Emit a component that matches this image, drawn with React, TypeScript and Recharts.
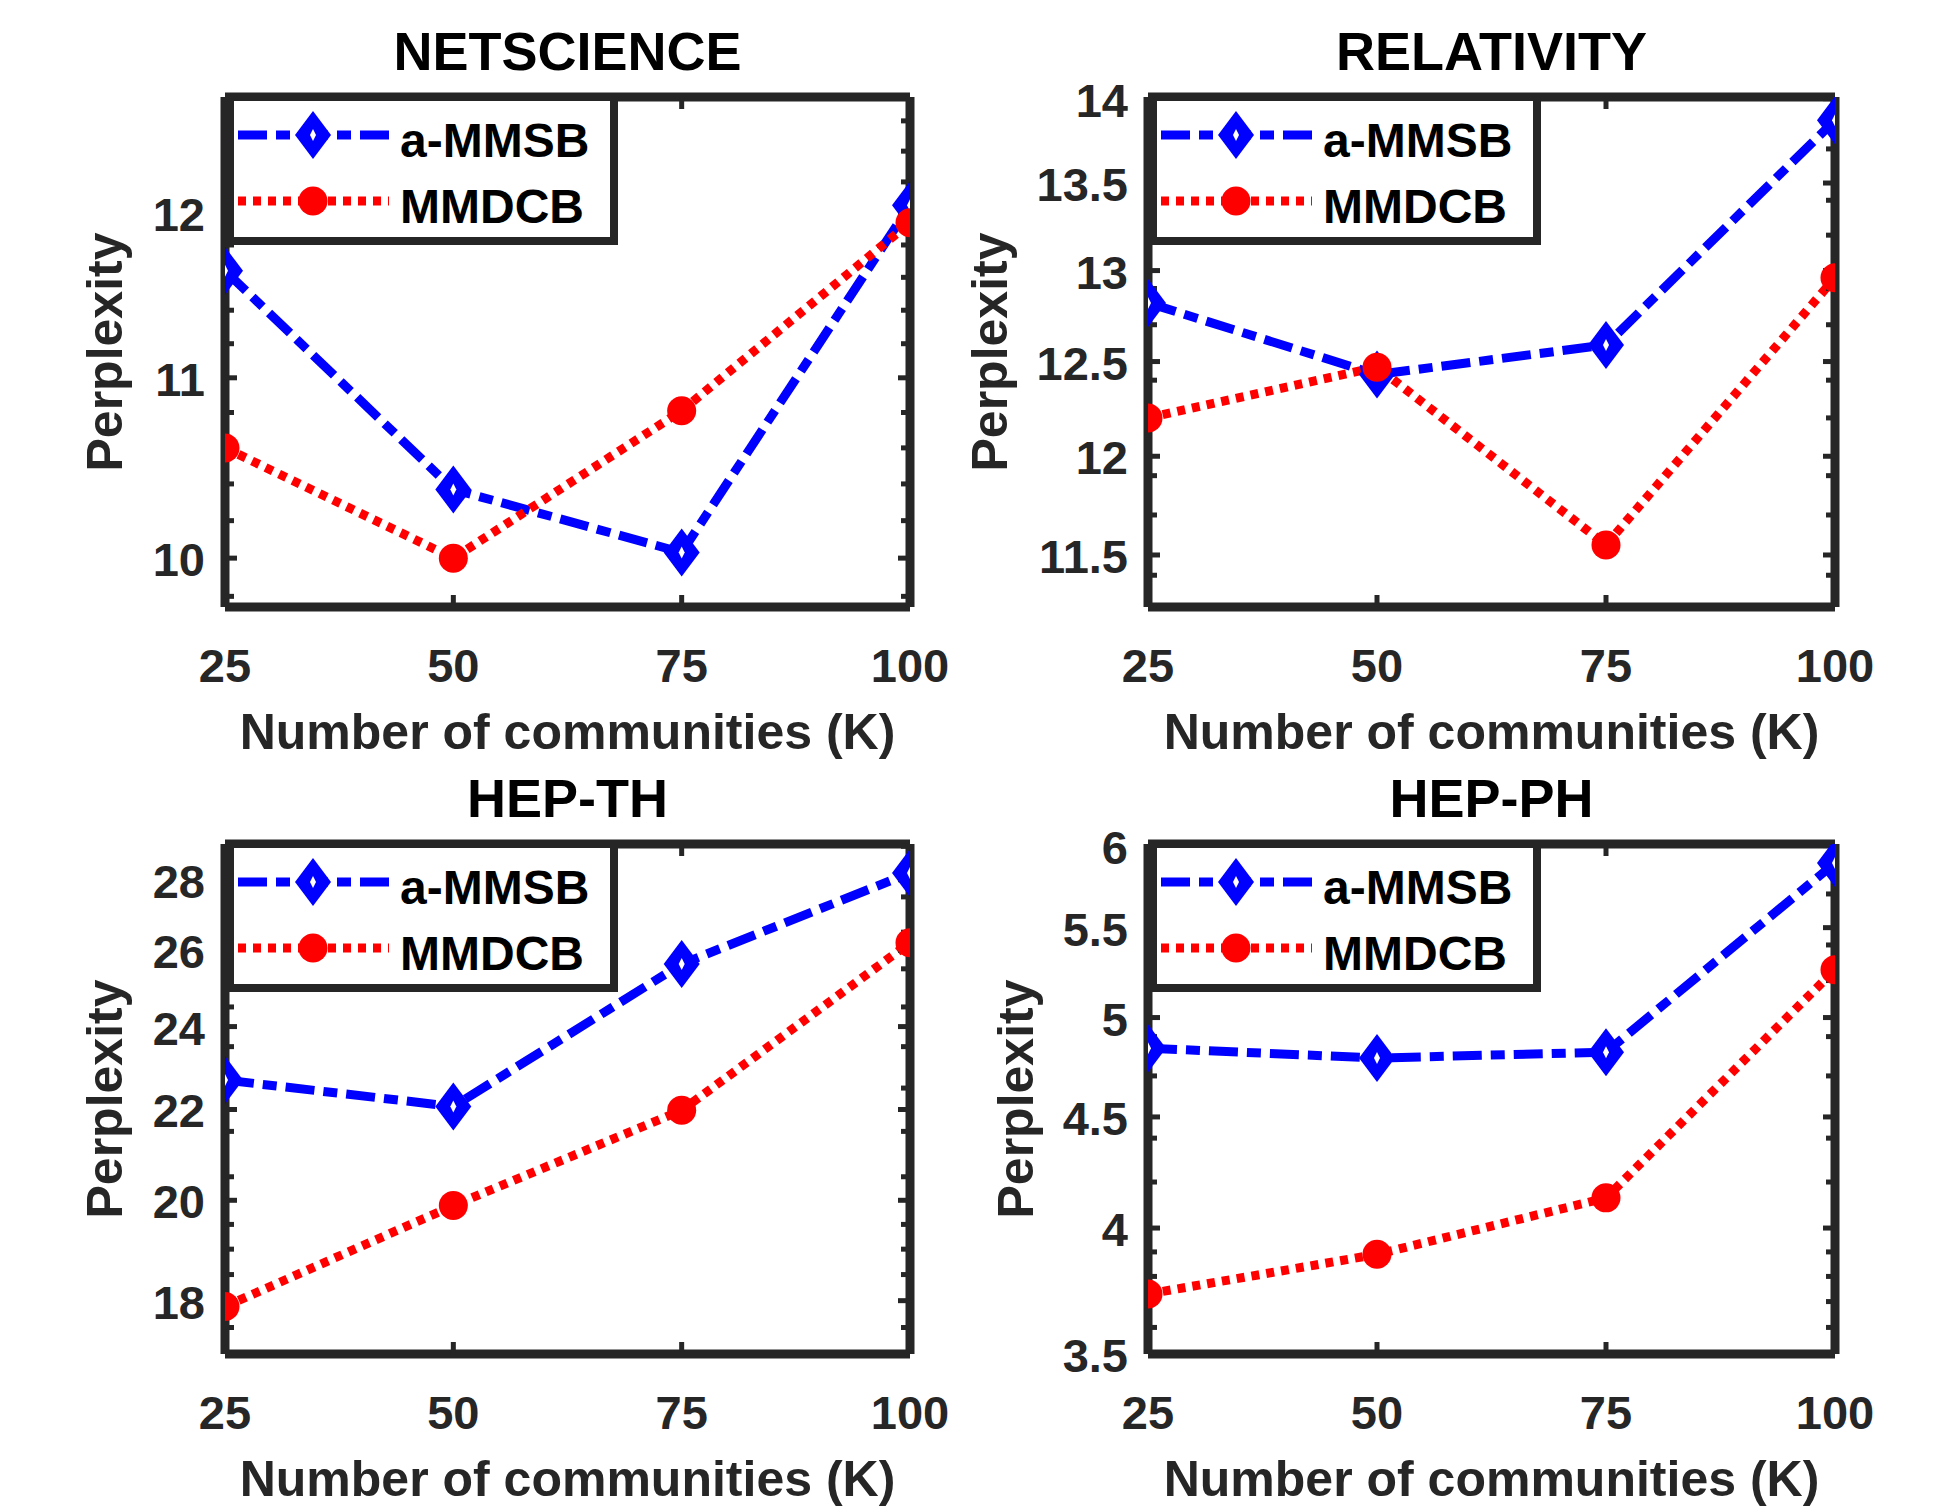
import React from 'react';
import { LineChart, Line, XAxis, YAxis, Legend, Label } from 'recharts';

// communities K on the x axis
const ks = [25, 50, 75, 100];
const kTicks = [25, 50, 75, 100];

const seriesNames = ['a-MMSB', 'MMDCB'];

// NETSCIENCE
const netAmmsb = [11.64, 10.37, 10.03, 12.05];
const netMmdcb = [10.6, 10.0, 10.81, 11.94];
const netTicks = [10, 11, 12];

// RELATIVITY
const relAmmsb = [12.82, 12.43, 12.59, 13.87];
const relMmdcb = [12.2, 12.47, 11.55, 12.96];
const relTicks = [11.5, 12, 12.5, 13, 13.5, 14];

// HEP-TH
const thAmmsb = [22.69, 22.07, 25.63, 28.2];
const thMmdcb = [17.89, 19.89, 21.98, 26.21];
const thTicks = [18, 20, 22, 24, 26, 28];

// HEP-PH
const phAmmsb = [4.84, 4.79, 4.82, 5.89];
const phMmdcb = [3.73, 3.89, 4.13, 5.26];
const phTicks = [3.5, 4, 4.5, 5, 5.5, 6];

const AX = '#262626';
const FONT = '"Liberation Sans", Arial, Helvetica, sans-serif';
const PAD = { top: 100, right: 90, bottom: 170, left: 240 };

// minor tick marks between lo and hi
const minorTicks = (lo: number, hi: number, step: number, major: number[]) => {
  const out: number[] = [];
  for (let i = Math.ceil(lo / step - 1e-9); i * step <= hi + 1e-9; i++) {
    const v = Math.round(i * step * 1000) / 1000;
    if (!major.includes(v)) out.push(v);
  }
  return out;
};

const Diamond = ({ cx, cy }: { cx: number; cy: number }) => (
  <g>
    <path d={`M${cx},${cy - 24} L${cx + 18},${cy} L${cx},${cy + 24} L${cx - 18},${cy} Z`} fill="#0000ff" />
    <path d={`M${cx},${cy - 6} L${cx + 3},${cy} L${cx},${cy + 6} L${cx - 3},${cy} Z`} fill="#fff" />
  </g>
);

const Dot = ({ cx, cy }: { cx: number; cy: number }) => <circle cx={cx} cy={cy} r={14.5} fill="#ff0000" />;

const LegendBox = () => (
  <svg width={400} height={156}>
    <rect x={5} y={4} width={384} height={144} fill="#fff" stroke={AX} strokeWidth={8} />
    <line x1={13} x2={164} y1={42} y2={42} stroke="#0000ff" strokeWidth={9} strokeDasharray="29 9 14 9" />
    <Diamond cx={88} cy={42} />
    <line x1={13} x2={164} y1={108} y2={108} stroke="#ff0000" strokeWidth={9} strokeDasharray="8 7" />
    <Dot cx={88} cy={108} />
    <text x={175} y={64} fontFamily={FONT} fontWeight="bold" fontSize={48} fill="#000">
      {seriesNames[0]}
    </text>
    <text x={175} y={130} fontFamily={FONT} fontWeight="bold" fontSize={48} fill="#000">
      {seriesNames[1]}
    </text>
  </svg>
);

interface PanelProps {
  plot: { l: number; t: number; r: number; b: number };
  title: string;
  ammsb: number[];
  mmdcb: number[];
  domain: [number, number];
  ticks: number[];
  minorStep: number;
  ylabelX: number;
}

const Panel: React.FC<PanelProps> = (p) => {
  const data = ks.map((k, i) => ({ k, ammsb: p.ammsb[i], mmdcb: p.mmdcb[i] }));
  const pw = p.plot.r - p.plot.l;
  const ph = p.plot.b - p.plot.t;
  const W = pw + PAD.left + PAD.right;
  const H = ph + PAD.top + PAD.bottom;
  const plotL = PAD.left;
  const plotT = PAD.top;
  const plotB = PAD.top + ph;
  const cx = plotL + pw / 2;
  const cy = plotT + ph / 2;
  const ylx = p.ylabelX - (p.plot.l - PAD.left);
  const minor = minorTicks(p.domain[0], p.domain[1], p.minorStep, p.ticks);
  const yCommon = {
    type: 'number' as const,
    scale: 'log' as const,
    domain: p.domain,
    allowDataOverflow: true,
    mirror: true,
    width: 1,
    stroke: AX,
  };
  const xCommon = {
    type: 'number' as const,
    dataKey: 'k',
    domain: [25, 100],
    ticks: kTicks,
    allowDataOverflow: true,
    mirror: true,
    stroke: AX,
    tickSize: 12,
    tickLine: { strokeWidth: 5 },
    axisLine: { strokeWidth: 9 },
  };
  const empty = () => <g />;

  return (
    <div style={{ position: 'absolute', left: p.plot.l - PAD.left, top: p.plot.t - PAD.top, width: W, height: H }}>
      <LineChart width={W} height={H} data={data} margin={PAD}>
        <XAxis
          {...xCommon}
          xAxisId="x"
          orientation="bottom"
          tick={(t: any) => (
            <text x={t.x} y={plotB + 75} textAnchor="middle" fontFamily={FONT} fontWeight="bold" fontSize={47} fill={AX}>
              {t.payload.value}
            </text>
          )}
        >
          <Label
            content={() => (
              <text x={cx} y={plotB + 142} textAnchor="middle" fontFamily={FONT} fontWeight="bold" fontSize={50} fill={AX}>
                Number of communities (K)
              </text>
            )}
          />
        </XAxis>
        <XAxis {...xCommon} xAxisId="xt" orientation="top" tick={empty}>
          <Label
            content={() => (
              <text x={cx} y={plotT - 27} textAnchor="middle" fontFamily={FONT} fontWeight="bold" fontSize={54} fill="#000">
                {p.title}
              </text>
            )}
          />
        </XAxis>
        <YAxis
          {...yCommon}
          yAxisId="y"
          orientation="left"
          ticks={p.ticks}
          tickSize={12}
          tickLine={{ strokeWidth: 5 }}
          axisLine={{ strokeWidth: 9 }}
          tick={(t: any) => (
            <text x={plotL - 20} y={t.y + 18} textAnchor="end" fontFamily={FONT} fontWeight="bold" fontSize={47} fill={AX}>
              {t.payload.value}
            </text>
          )}
        >
          <Label
            content={() => (
              <text
                x={ylx}
                y={cy}
                transform={`rotate(-90 ${ylx} ${cy})`}
                textAnchor="middle"
                fontFamily={FONT}
                fontWeight="bold"
                fontSize={50}
                fill={AX}
              >
                Perplexity
              </text>
            )}
          />
        </YAxis>
        <YAxis {...yCommon} yAxisId="ym" orientation="left" ticks={minor} tickSize={8} tickLine={{ strokeWidth: 5 }} axisLine={false} tick={empty} />
        <YAxis
          {...yCommon}
          yAxisId="yr"
          orientation="right"
          ticks={p.ticks}
          tickSize={12}
          tickLine={{ strokeWidth: 5 }}
          axisLine={{ strokeWidth: 9 }}
          tick={empty}
        />
        <YAxis {...yCommon} yAxisId="yrm" orientation="right" ticks={minor} tickSize={8} tickLine={{ strokeWidth: 5 }} axisLine={false} tick={empty} />
        <Line
          xAxisId="x"
          yAxisId="y"
          type="linear"
          dataKey="ammsb"
          name={seriesNames[0]}
          stroke="#0000ff"
          strokeWidth={9}
          strokeDasharray="29 9 14 9"
          dot={(d: any) => <Diamond key={`a${d.index}`} cx={d.cx} cy={d.cy} />}
          activeDot={false}
          isAnimationActive={false}
        />
        <Line
          xAxisId="x"
          yAxisId="y"
          type="linear"
          dataKey="mmdcb"
          name={seriesNames[1]}
          stroke="#ff0000"
          strokeWidth={9}
          strokeDasharray="8 7"
          dot={(d: any) => <Dot key={`m${d.index}`} cx={d.cx} cy={d.cy} />}
          activeDot={false}
          isAnimationActive={false}
        />
        <Legend
          layout="vertical"
          align="center"
          verticalAlign="middle"
          content={() => <LegendBox />}
          wrapperStyle={{ position: 'absolute', left: plotL, top: plotT - 4, width: 400, height: 156 }}
        />
      </LineChart>
    </div>
  );
};

export default function App() {
  return (
    <div style={{ position: 'absolute', left: 0, top: 0, width: 1960, height: 1506, background: '#fff', overflow: 'hidden' }}>
      <Panel
        plot={{ l: 225, t: 97, r: 910, b: 607 }}
        title="NETSCIENCE"
        ammsb={netAmmsb}
        mmdcb={netMmdcb}
        domain={[9.745, 12.76]}
        ticks={netTicks}
        minorStep={0.2}
        ylabelX={122}
      />
      <Panel
        plot={{ l: 1148, t: 97, r: 1835, b: 607 }}
        title="RELATIVITY"
        ammsb={relAmmsb}
        mmdcb={relMmdcb}
        domain={[11.245, 14.01]}
        ticks={relTicks}
        minorStep={0.1}
        ylabelX={1007}
      />
      <Panel
        plot={{ l: 225, t: 844, r: 910, b: 1354 }}
        title="HEP-TH"
        ammsb={thAmmsb}
        mmdcb={thMmdcb}
        domain={[17.02, 29.07]}
        ticks={thTicks}
        minorStep={0.5}
        ylabelX={122}
      />
      <Panel
        plot={{ l: 1148, t: 844, r: 1835, b: 1354 }}
        title="HEP-PH"
        ammsb={phAmmsb}
        mmdcb={phMmdcb}
        domain={[3.5, 6.01]}
        ticks={phTicks}
        minorStep={0.1}
        ylabelX={1033}
      />
    </div>
  );
}
